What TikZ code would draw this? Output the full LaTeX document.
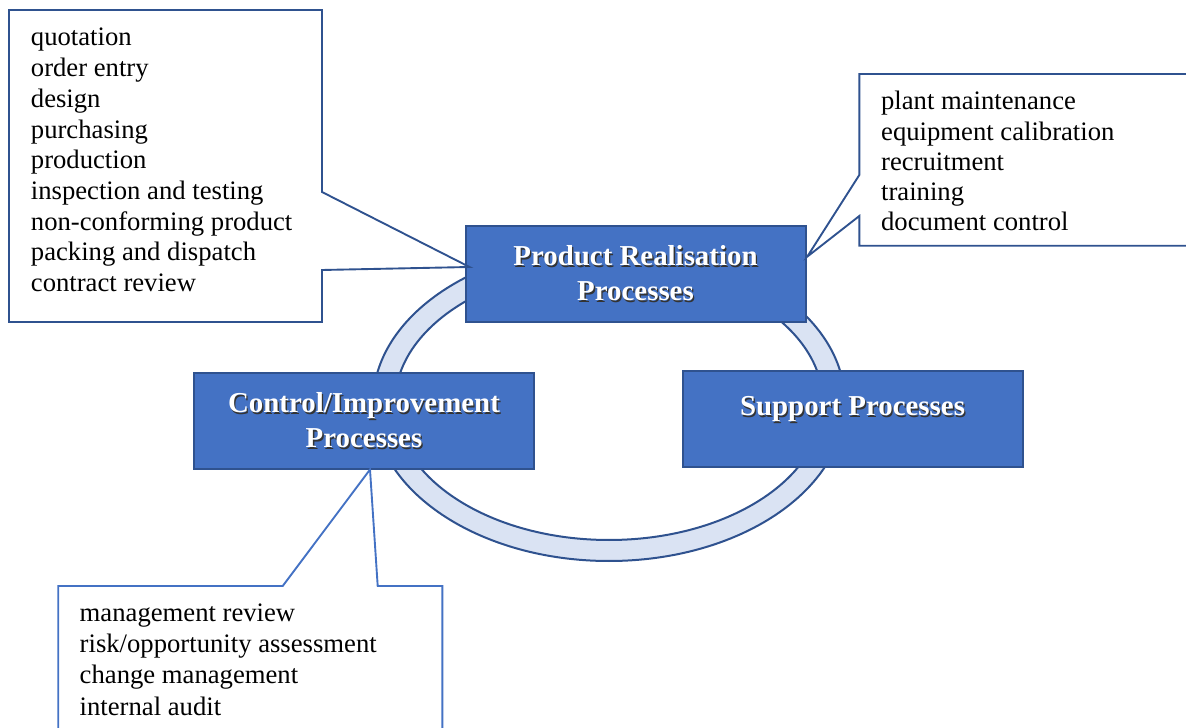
\documentclass[tikz,border=0pt]{standalone}
\usepackage{fontspec}
\setmainfont{Liberation Serif}
\usepackage{xcolor}
\usetikzlibrary{calc,positioning}

\definecolor{boxfill}{HTML}{4472C4}
\definecolor{boxline}{HTML}{2F528F}
\definecolor{ringfill}{HTML}{DAE3F3}
\newcommand{\shadowed}[1]{\leavevmode\rlap{\kern0.6pt\raisebox{-0.6pt}{\color{black!80}#1}}#1}

\tikzset{
  procbox/.style={draw=boxline, fill=boxfill, line width=0.9pt, minimum width=153pt, minimum height=42.8pt, inner sep=0pt, text=white, align=center, font=\fontsize{13}{15.75}\selectfont\bfseries},
  callout/.style={draw=boxline, line width=0.85pt, line join=miter},
  item/.style={anchor=base west, inner sep=0pt, font=\fontsize{12}{13.8}\selectfont},
}

\begin{document}
\begin{tikzpicture}[x=0.45pt, y=-0.45pt]
	\useasboundingbox (0,0) rectangle (1186,728);
	\draw[boxline, line width=0.9pt, fill=ringfill, even odd rule] (609,403) coordinate (ring) ellipse [x radius=236, y radius=158] (ring) ellipse [x radius=214, y radius=137];

	\node[procbox] (prod) at (635.5,274) {\shadowed{Product Realisation}\\\shadowed{Processes}};
	\node[procbox] (ctrl) at (364,421) {\shadowed{Control/Improvement}\\\shadowed{Processes}};
	\node[procbox] (supp) at (852.5,419) {\shadowed{Support Processes}\\[-9pt]\strut};

	\coordinate (tipL) at ($(prod.west)+(5,-7)$);
	\coordinate (tipR) at ($(prod.east)+(0.7,-17.3)$);
	\coordinate (tipB) at ($(ctrl.south)+(6,0)$);

	\draw[callout] (9,10) -- (322,10) -- (322,192) -- (tipL) -- (322,270) -- (322,322) -- (9,322) -- cycle;
	\draw[callout] (1200,74) -- (859.3,74) -- (859.3,175) -- (tipR) -- (859.3,216) -- (859.3,245.7) -- (1200,245.7);
	\draw[callout, draw=boxfill] (58.3,740) -- (58.3,586) -- (282.7,586) -- (tipB) -- (377.7,586) -- (442.3,586) -- (442.3,740);

	\foreach \t [count=\i] in {quotation, order entry, design, purchasing, production, inspection and testing, non-conforming product, packing and dispatch, contract review}
		\node[item] (prodi\i) at (30.5, {46+30.7*(\i-1)}) {\t};
	\foreach \t [count=\i] in {plant maintenance, equipment calibration, recruitment, training, document control}
		\node[item] (suppi\i) at (880.7, {110+30.2*(\i-1)}) {\t};
	\foreach \t [count=\i] in {management review, risk/opportunity assessment, change management, internal audit}
		\node[item] (ctrli\i) at (79.3, {621.7+31.1*(\i-1)}) {\t};
\end{tikzpicture}
\end{document}
